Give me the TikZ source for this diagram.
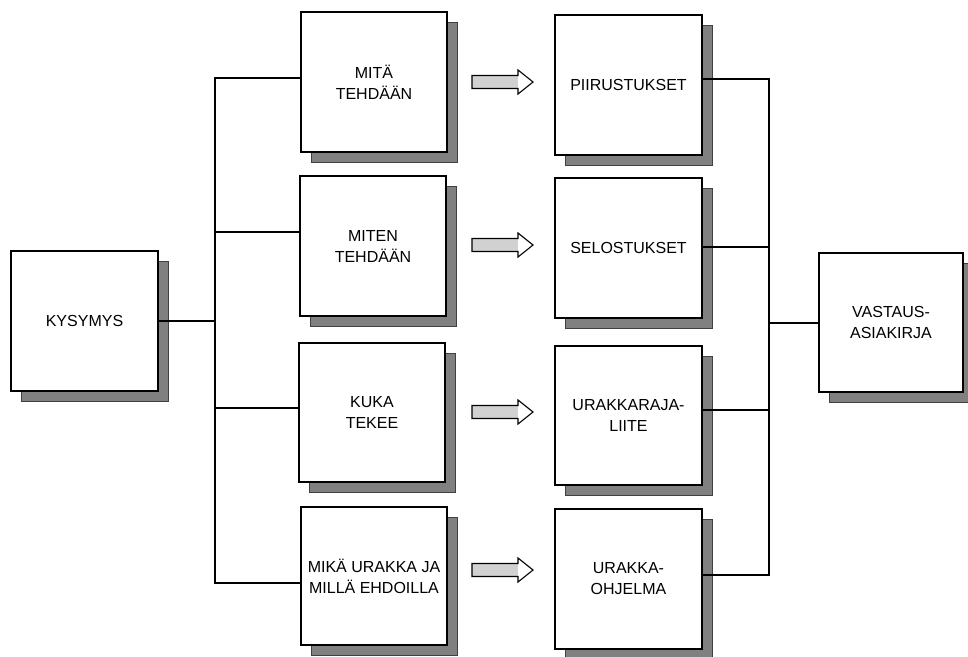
\documentclass[tikz,border=0pt]{standalone}
\usepackage{fontspec}
\setmainfont{Liberation Sans}
\usetikzlibrary{shadows}
\begin{document}
\begin{tikzpicture}[x=1pt,y=-1pt,
  box/.style={draw=black, line width=1.2pt, fill=white, align=center, inner sep=1pt,
    font=\fontsize{16}{21}\selectfont,
    drop shadow={shadow xshift=10pt, shadow yshift=-10pt, fill=black!50, draw=black!75, line width=0.6pt, opacity=1}},
  conn/.style={line width=1.4pt, line cap=rect},
  bigarrow/.pic={
    \fill[black!18] (0,-6.5) rectangle (46,6.5);
    \draw[line width=1.1pt, line join=miter] (0,-6.5) -- (46,-6.5) -- (46,-12) -- (61,0) -- (46,12) -- (46,6.5) -- (0,6.5) -- cycle;
  }]
\fill[white] (0,0) rectangle (968,656);
\useasboundingbox (0,0) rectangle (968,656);

% left question box
\node[box, minimum width=147pt, minimum height=140pt] (k) at (84.5,321) {KYSYMYS};

% middle column
\node[box, minimum width=146pt, minimum height=140pt] (m1) at (374,82) {MITÄ\\TEHDÄÄN};
\node[box, minimum width=146pt, minimum height=140pt] (m2) at (373,246) {MITEN\\TEHDÄÄN};
\node[box, minimum width=146pt, minimum height=139pt] (m3) at (372,412.5) {KUKA\\TEKEE};
\node[box, minimum width=146pt, minimum height=138pt] (m4) at (374,576) {MIKÄ URAKKA JA\\MILLÄ EHDOILLA};

% right column
\node[box, minimum width=147pt, minimum height=140pt] (r1) at (628.5,85) {PIIRUSTUKSET};
\node[box, minimum width=147pt, minimum height=140pt] (r2) at (628.5,248) {SELOSTUKSET};
\node[box, minimum width=147pt, minimum height=139pt] (r3) at (628.5,415.5) {URAKKARAJA-\\LIITE};
\node[box, minimum width=147pt, minimum height=140pt] (r4) at (628.5,579) {URAKKA-\\OHJELMA};

% answer box
\node[box, minimum width=144pt, minimum height=139pt] (v) at (891,322.5) {VASTAUS-\\ASIAKIRJA};

% hollow arrows
\pic at (472,82) {bigarrow};
\pic at (472,245) {bigarrow};
\pic at (472,412) {bigarrow};
\pic at (472,570) {bigarrow};

% left bus
\coordinate (lb1) at (215,78);
\coordinate (lb2) at (215,232);
\coordinate (lbk) at (215,321);
\coordinate (lb3) at (215,408);
\coordinate (lb4) at (215,583);
\draw[conn] (k.east) -- (lbk);
\draw[conn] (lb1) -- (lb4);
\draw[conn] (lb1) -- (lb1 -| m1.west);
\draw[conn] (lb2) -- (lb2 -| m2.west);
\draw[conn] (lb3) -- (lb3 -| m3.west);
\draw[conn] (lb4) -- (lb4 -| m4.west);

% right bus
\coordinate (rb1) at (769,79);
\coordinate (rb2) at (769,247);
\coordinate (rbv) at (769,323);
\coordinate (rb3) at (769,410);
\coordinate (rb4) at (769,575);
\draw[conn] (rb1 -| r1.east) -- (rb1);
\draw[conn] (rb2 -| r2.east) -- (rb2);
\draw[conn] (rb3 -| r3.east) -- (rb3);
\draw[conn] (rb4 -| r4.east) -- (rb4);
\draw[conn] (rb1) -- (rb4);
\draw[conn] (rbv) -- (rbv -| v.west);
\end{tikzpicture}
\end{document}
